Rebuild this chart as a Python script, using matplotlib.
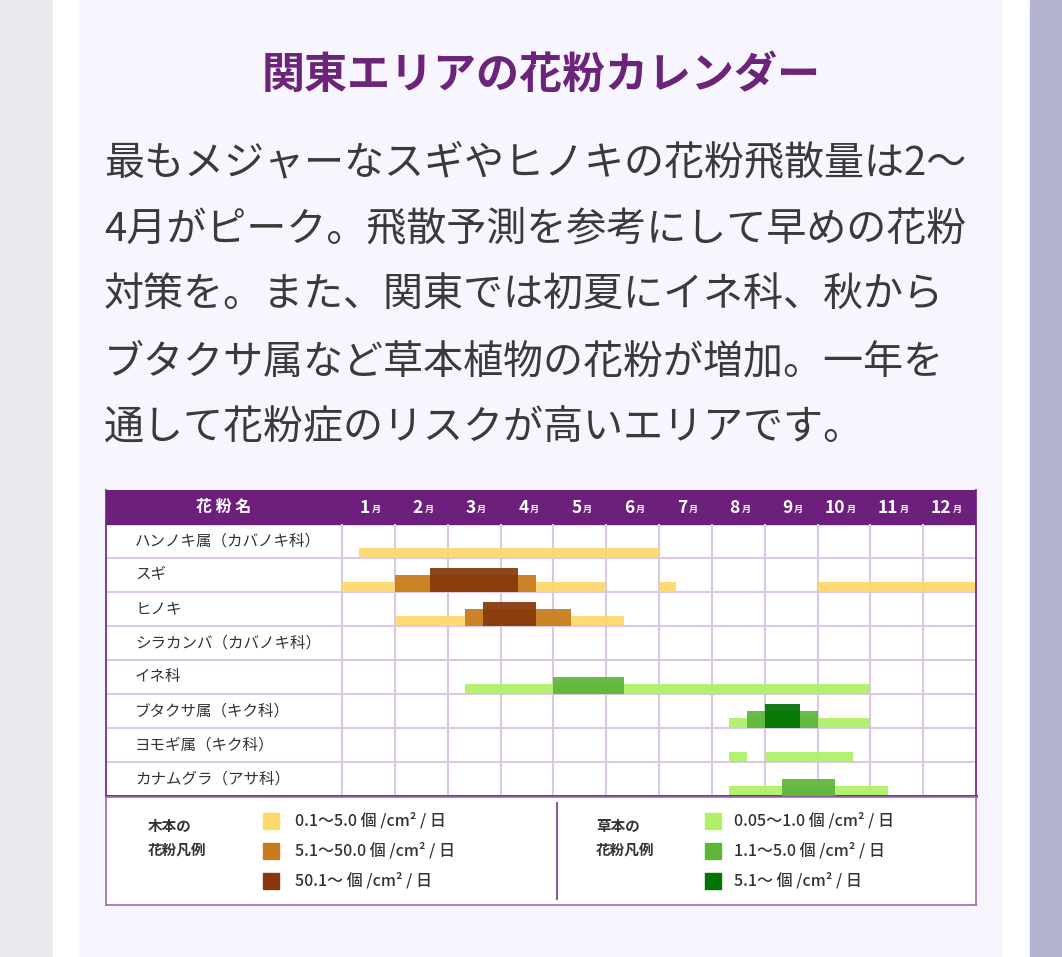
import matplotlib
matplotlib.use("Agg")
import matplotlib.pyplot as plt
from matplotlib.patches import Rectangle

plt.rcParams["font.family"] = ["Noto Sans CJK JP", "DejaVu Sans"]

# ── data ─────────────────────────────────────────────────────────────
TITLE = "関東エリアの花粉カレンダー"
BODY_LINES = [
    "最もメジャーなスギやヒノキの花粉飛散量は2〜",
    "4月がピーク。飛散予測を参考にして早めの花粉",
    "対策を。また、関東では初夏にイネ科、秋から",
    "ブタクサ属など草本植物の花粉が増加。一年を",
    "通して花粉症のリスクが高いエリアです。",
]
MONTHS = [f"{m}" for m in range(1, 13)]
POLLEN = [
    "ハンノキ属（カバノキ科）",
    "スギ",
    "ヒノキ",
    "シラカンバ（カバノキ科）",
    "イネ科",
    "ブタクサ属（キク科）",
    "ヨモギ属（キク科）",
    "カナムグラ（アサ科）",
]
# periods in months (0 = start of Jan, 12 = end of Dec), per level 1/2/3
LEVEL1 = [
    [(0.33, 6.0)],
    [(0.0, 5.0), (6.0, 6.33), (9.0, 12.0)],
    [(1.0, 5.33)],
    [],
    [(2.33, 10.0)],
    [(7.33, 10.0)],
    [(7.33, 7.67), (8.0, 9.67)],
    [(7.33, 10.33)],
]
LEVEL2 = [
    [],
    [(1.0, 3.67)],
    [(2.33, 4.33)],
    [],
    [(4.0, 5.33)],
    [(7.67, 9.0)],
    [],
    [(8.33, 9.33)],
]
LEVEL3 = [
    [],
    [(1.67, 3.33)],
    [(2.67, 3.67)],
    [],
    [],
    [(8.0, 8.67)],
    [],
    [],
]
IS_GRASS = [False, False, False, False, True, True, True, True]

TREE_COLORS = ["#fdd86a", "#c67c1c", "#86390a"]
GRASS_COLORS = ["#aef066", "#5db53b", "#027402"]
TREE_LEGEND = ["0.1〜5.0 個 /cm² / 日", "5.1〜50.0 個 /cm² / 日", "50.1〜 個 /cm² / 日"]
GRASS_LEGEND = ["0.05〜1.0 個 /cm² / 日", "1.1〜5.0 個 /cm² / 日", "5.1〜 個 /cm² / 日"]

PURPLE = "#6c1f7b"
GRID = "#dcc8e4"
LEVEL_H = [0.28, 0.5, 0.7]

W, H = 1062, 957
fig = plt.figure(figsize=(W / 100, H / 100), dpi=100)

# ── page background ─────────────────────────────────────────────────
bg = fig.add_axes([0, 0, 1, 1])
bg.set_xlim(0, W)
bg.set_ylim(H, 0)
bg.axis("off")
bg.axvspan(0, 53, color="#e9e8ee")
bg.axvspan(53, 79, color="white")
bg.axvspan(79, 1003, color="#f7f5fd")
bg.axvspan(1003, 1030, color="white")
bg.axvspan(1030, W, color="#b4b4d1")

bg.text(541, 75, TITLE, ha="center", va="center", fontsize=31,
        fontweight="bold", color="#6b2479")
for i, line in enumerate(BODY_LINES):
    bg.text(104, 163 + i * 66.3, line, ha="left", va="center",
            fontsize=28.85, color="#3a3a3a")

# ── calendar table ──────────────────────────────────────────────────
name_w = 236 / 52.83  # name column width in month units
ax = fig.add_axes([106 / W, 1 - 796 / H, 870 / W, 306 / H])
ax.set_xlim(-name_w, 12)
ax.set_ylim(8, -1)
ax.set_facecolor("white")
ax.set_xticks([])
ax.set_yticks([])
for s in ax.spines.values():
    s.set_color(PURPLE)
    s.set_linewidth(1.2)
ax.spines["bottom"].set_linewidth(2)
ax.spines["top"].set_visible(False)

ax.axhspan(-1, 0, color=PURPLE, zorder=1)
ax.hlines(range(1, 8), -name_w, 12, color=GRID, lw=1.5, zorder=1)
ax.vlines(range(0, 12), 0, 8, color=GRID, lw=1.5, zorder=1)

for i in range(len(POLLEN)):
    cols = GRASS_COLORS if IS_GRASS[i] else TREE_COLORS
    for lv, periods in enumerate([LEVEL1[i], LEVEL2[i], LEVEL3[i]]):
        if not periods:
            continue
        h = LEVEL_H[lv]
        ax.broken_barh([(a, b - a) for a, b in periods], (i + 1 - h, h),
                       facecolor=cols[lv], alpha=0.93, zorder=2 + lv)
    ax.text(-name_w + 0.55, i + 0.5, POLLEN[i], ha="left", va="center",
            fontsize=11.2, color="#333333", zorder=6)

ax.text(-name_w / 2, -0.5, "花 粉 名", ha="center", va="center",
        fontsize=11.5, fontweight="bold", color="white", zorder=6)
for j, m in enumerate(MONTHS):
    ax.text(j + 0.53, -0.47, m, ha="right", va="center", fontsize=12.5,
            fontweight="bold", color="white", zorder=6)
    ax.text(j + 0.56, -0.42, "月", ha="left", va="center", fontsize=6.5,
            fontweight="bold", color="white", zorder=6)

# ── legend box ──────────────────────────────────────────────────────
lg = fig.add_axes([106 / W, 1 - 905 / H, 870 / W, 108 / H])
lg.set_xlim(0, 1)
lg.set_ylim(1, 0)
lg.set_xticks([])
lg.set_yticks([])
lg.set_facecolor("white")
for s in lg.spines.values():
    s.set_color("#9c6cab")
    s.set_linewidth(1.2)
lg.axvline(0.518, 0.06, 0.94, color="#8e5a9e", lw=1.5)

groups = [
    (0.048, 0.181, 0.217, "木本の\n花粉凡例", TREE_COLORS, TREE_LEGEND),
    (0.563, 0.689, 0.722, "草本の\n花粉凡例", GRASS_COLORS, GRASS_LEGEND),
]
sq_w = 16 / 870
sq_h = 16 / 108
for tx, sx, lx, title, cols, labels in groups:
    lg.text(tx, 0.375, title, ha="left", va="center", fontsize=10.5,
            fontweight="bold", color="#333333", linespacing=1.6)
    for k, (c, lab) in enumerate(zip(cols, labels)):
        yc = 0.22 + k * 0.28
        lg.add_patch(Rectangle((sx, yc - sq_h / 2), sq_w, sq_h, color=c))
        lg.text(lx, yc, lab, ha="left", va="center", fontsize=11.5,
                fontweight="medium", color="#333333")

fig.savefig("out.png", dpi=100)
